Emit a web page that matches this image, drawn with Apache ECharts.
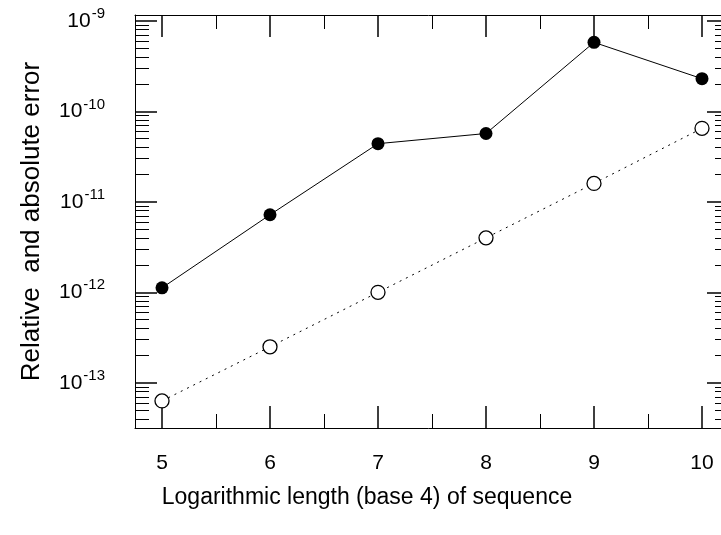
<!DOCTYPE html>
<html>
<head>
<meta charset="utf-8">
<script src="https://cdn.jsdelivr.net/npm/echarts@6/dist/echarts.min.js"></script>
<style>
  html, body { margin: 0; padding: 0; background: #fff; }
  #chart-container { width: 721px; height: 535px; }
</style>
</head>
<body>
<div id="chart-container"></div>
<script>
// data
const seqLength = [5, 6, 7, 8, 9, 10];
const relError = [1.12e-12, 7.2e-12, 4.4e-11, 5.7e-11, 5.8e-10, 2.3e-10];
const absError = [6.3e-14, 2.5e-13, 1.0e-12, 4.0e-12, 1.6e-11, 6.5e-11];

const xMajor = [5, 6, 7, 8, 9, 10];
const xMinor = [5.5, 6.5, 7.5, 8.5, 9.5];
const yDecades = [-13, -12, -11, -10, -9];

const X_MIN = 4.75, X_MAX = 10.25;
const Y_MIN = -13.5, Y_MAX = -8.934;

// log-spaced minor ticks between decades
const yMinor = [];
for (let e = -14; e <= -9; e++) {
  for (let k = 2; k <= 9; k++) {
    const v = e + Math.log10(k);
    if (v > Y_MIN && v < Y_MAX) yMinor.push(v);
  }
}

const FONT = "'Liberation Sans', Arial, sans-serif";

function tickAxis(pos, values, len, width, extra) {
  const isX = pos === 'bottom' || pos === 'top';
  return Object.assign({
    type: 'value',
    position: pos,
    min: isX ? X_MIN : Y_MIN,
    max: isX ? X_MAX : Y_MAX,
    splitLine: { show: false },
    axisLine: { show: false },
    axisTick: {
      show: true,
      inside: true,
      length: len,
      customValues: values,
      lineStyle: { color: '#000', width: width }
    },
    axisLabel: { show: false, customValues: values }
  }, extra || {});
}

const boxLine = { show: true, onZero: false, lineStyle: { color: '#000', width: 1 } };

const dom = document.getElementById('chart-container');
const myChart = echarts.init(dom, null, { renderer: 'canvas' });

const option = {
  animation: false,
  backgroundColor: '#fff',
  grid: { left: 135, right: -8, top: 15, bottom: 107, outerBoundsMode: 'none' },
  xAxis: [
    tickAxis('bottom', xMajor, 22, 1.5, {
      axisLine: boxLine,
      axisLabel: {
        show: true,
        customValues: xMajor,
        margin: 25,
        fontSize: 21,
        fontFamily: FONT,
        color: '#000'
      },
      name: 'Logarithmic length (base 4) of sequence',
      nameLocation: 'middle',
      nameGap: 58,
      nameTextStyle: { fontSize: 23, fontFamily: FONT, color: '#000', padding: [0, 130, 0, 0] }
    }),
    tickAxis('bottom', xMinor, 14, 1),
    tickAxis('top', xMajor, 22, 1.5, { axisLine: boxLine }),
    tickAxis('top', xMinor, 14, 1)
  ],
  yAxis: [
    tickAxis('left', yDecades, 22, 1.5, {
      axisLine: boxLine,
      axisLabel: {
        show: true,
        customValues: yDecades,
        margin: 30,
        fontSize: 21,
        fontFamily: FONT,
        color: '#000',
        formatter: (v) => '{b|10}{s|' + v + '}',
        rich: {
          b: { fontSize: 21, fontFamily: FONT, color: '#000' },
          s: { fontSize: 15, fontFamily: FONT, color: '#000', padding: [0, 0, 14, 1] }
        }
      },
      name: 'Relative  and absolute error',
      nameLocation: 'middle',
      nameGap: 90,
      nameTextStyle: { fontSize: 26, fontFamily: FONT, color: '#000' }
    }),
    tickAxis('left', yMinor, 14, 1),
    tickAxis('right', yDecades, 22, 1.5, { axisLine: boxLine }),
    tickAxis('right', yMinor, 14, 1)
  ],
  series: [
    {
      name: 'relative',
      type: 'line',
      xAxisIndex: 0,
      yAxisIndex: 0,
      data: seqLength.map((x, i) => [x, Math.log10(relError[i])]),
      symbol: 'circle',
      symbolSize: 13,
      itemStyle: { color: '#000' },
      lineStyle: { color: '#000', width: 1 },
      z: 3
    },
    {
      name: 'absolute',
      type: 'line',
      xAxisIndex: 0,
      yAxisIndex: 0,
      data: seqLength.map((x, i) => [x, Math.log10(absError[i])]),
      symbol: 'circle',
      symbolSize: 14,
      itemStyle: { color: '#fff', borderColor: '#000', borderWidth: 1.3 },
      lineStyle: { color: '#000', width: 1, type: [2, 5] },
      z: 3
    }
  ]
};

myChart.setOption(option);
window.addEventListener('resize', myChart.resize);
</script>
</body>
</html>
